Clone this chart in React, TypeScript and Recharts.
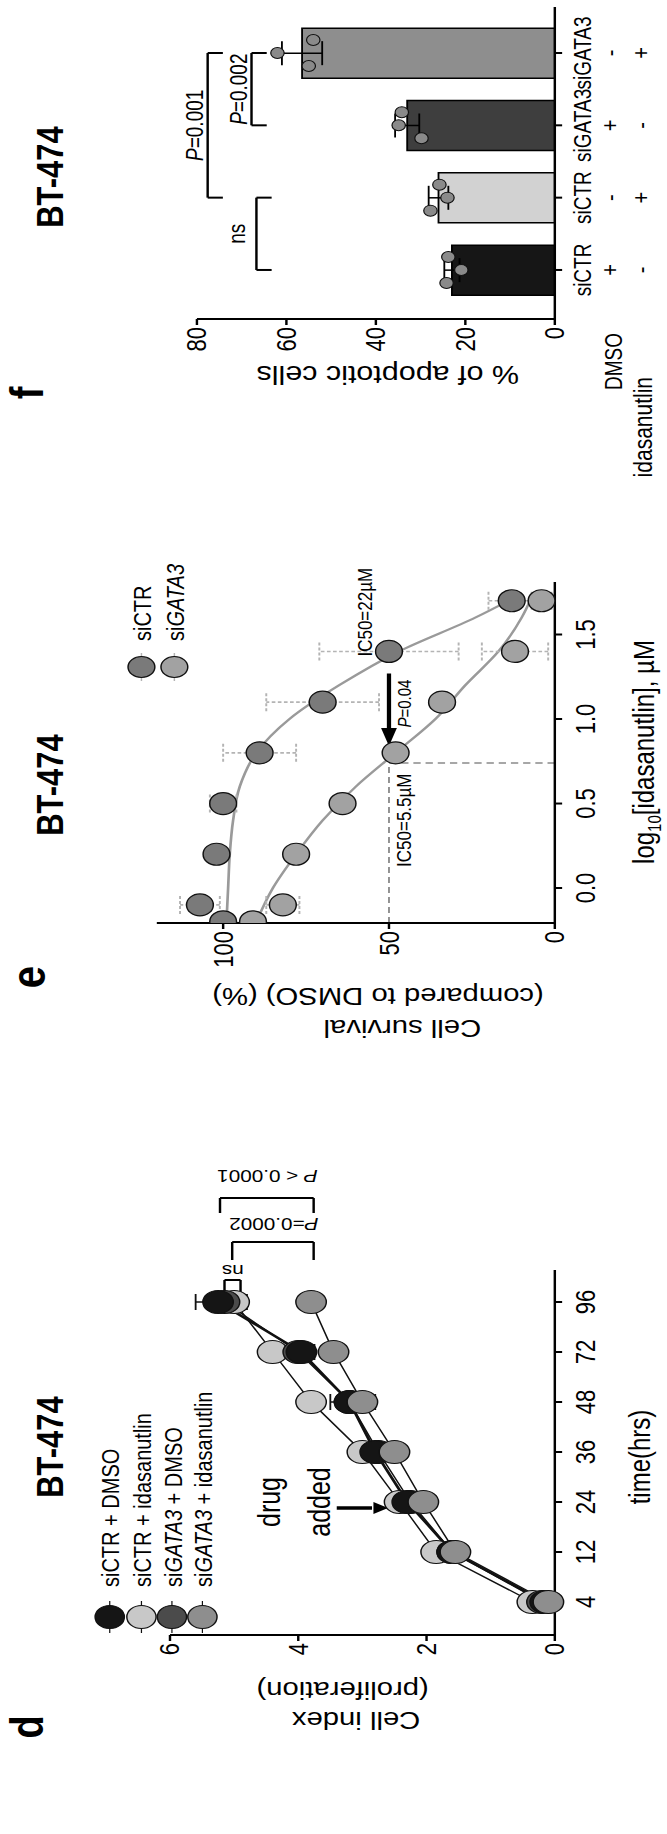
import React from "react";
import {
  ComposedChart,
  Line,
  Bar,
  Cell,
  XAxis,
  YAxis,
  ErrorBar,
  ReferenceLine,
  ReferenceDot,
} from "recharts";

const FONT = '"Liberation Sans", Arial, Helvetica, sans-serif';
const PAGE_W = 667;
const PAGE_H = 1834;
// the figure is laid out landscape (PAGE_H wide) and then turned and stretched a bit
const H = 547;
const STRETCH = PAGE_W / H;

const AXIS = { stroke: "#000", strokeWidth: 2 };
const TICK = { fill: "#000", fontSize: 22, fontFamily: FONT };

// ---------- d: proliferation ----------
const TIMES = ["4", "12", "24", "36", "48", "72", "96"];
const CTR_DMSO = [0.15, 1.6, 2.3, 2.8, 3.2, 3.95, 5.25];
const CTR_DMSO_ERR = [null, null, 0.1, 0.12, 0.15, 0.2, 0.35];
const CTR_IDA = [0.35, 1.85, 2.42, 3.0, 3.8, 4.4, 5.0];
const CTR_IDA_ERR = [null, null, null, null, 0.15, null, 0.2];
const GATA_DMSO = [0.2, 1.6, 2.25, 2.75, 3.2, 4.0, 5.15];
const GATA_DMSO_ERR = [null, null, null, 0.1, 0.3, 0.25, 0.2];
const GATA_IDA = [0.1, 1.55, 2.05, 2.5, 3.0, 3.45, 3.8];
const GATA_IDA_ERR = [null, null, 0.1, 0.15, 0.2, 0.1, null];

// ---------- e: survival ----------
const E_X = [-0.2, -0.1, 0.2, 0.5, 0.8, 1.1, 1.4, 1.7];
const E_CTR = [100, 107, 102, 100, 89, 70, 50, 13];
const E_CTR_ERR = [null, 6, null, 4, 11, 17, 21, 7];
const E_GATA = [91, 82, 78, 64, 48, 34, 12, 4];
const E_GATA_ERR = [null, 5, null, null, null, null, 10, 3];
// fitted curves
const FIT_X = [-0.2, 0, 0.2, 0.4, 0.6, 0.8, 1.0, 1.2, 1.4, 1.6, 1.72];
const FIT_CTR = [99, 98.5, 98, 97, 95, 90, 80, 65, 47, 24, 12];
const FIT_GATA = [90, 85, 78, 70, 60, 48, 36, 27, 17, 10, 7];

// ---------- f: apoptosis ----------
const F_GROUPS = ["siCTR", "siCTR", "siGATA3", "siGATA3"];
const F_DMSO = ["+", "-", "+", "-"];
const F_IDA = ["-", "+", "-", "+"];
const F_MEAN = [23, 26, 33, 56.5];
const F_ERR = [1.7, 2.2, 2.7, 4.5];
const F_REP1 = [24.2, 27.8, 29.8, 55];
const F_REP2 = [20.9, 24, 34.9, 62];
const F_REP3 = [23.8, 25.8, 34.2, 54];
const F_COLORS = ["#161616", "#d2d2d2", "#3e3e3e", "#8e8e8e"];

const dRows = TIMES.map((t, i) => ({
  i,
  ctrDmso: CTR_DMSO[i],
  ctrDmsoErr: CTR_DMSO_ERR[i],
  ctrIda: CTR_IDA[i],
  ctrIdaErr: CTR_IDA_ERR[i],
  gataDmso: GATA_DMSO[i],
  gataDmsoErr: GATA_DMSO_ERR[i],
  gataIda: GATA_IDA[i],
  gataIdaErr: GATA_IDA_ERR[i],
}));

const eRows = Array.from(new Set([...E_X, ...FIT_X]))
  .sort((a, b) => a - b)
  .map((x) => {
    const p = E_X.indexOf(x);
    const f = FIT_X.indexOf(x);
    return {
      x,
      ctr: p >= 0 ? E_CTR[p] : null,
      ctrErr: p >= 0 ? E_CTR_ERR[p] : null,
      gata: p >= 0 ? E_GATA[p] : null,
      gataErr: p >= 0 ? E_GATA_ERR[p] : null,
      fitCtr: f >= 0 ? FIT_CTR[f] : null,
      fitGata: f >= 0 ? FIT_GATA[f] : null,
    };
  });

const fRows = F_GROUPS.map((g, i) => ({
  i,
  mean: F_MEAN[i],
  err: F_ERR[i],
  r1: F_REP1[i],
  r2: F_REP2[i],
  r3: F_REP3[i],
}));

const D_LINES = [
  { key: "ctrIda", fill: "#c8c8c8", sw: 1.3 },
  { key: "gataDmso", fill: "#4b4b4b", sw: 1.3 },
  { key: "ctrDmso", fill: "#151515", sw: 2.4 },
  { key: "gataIda", fill: "#8e8e8e", sw: 1.3 },
];

const D_LEGEND = [
  { gene: false, rest: " + DMSO", fill: "#151515" },
  { gene: false, rest: " + idasanutlin", fill: "#c8c8c8" },
  { gene: true, rest: " + DMSO", fill: "#4b4b4b" },
  { gene: true, rest: " + idasanutlin", fill: "#8e8e8e" },
];

const ring = (fill: string, rx: number, ry: number, dx = 0, sw = 1.2) => (p: any) => {
  if (p.cx == null || p.cy == null || p.value == null) return <g key={p.index} />;
  return (
    <ellipse
      key={p.index}
      cx={p.cx + dx}
      cy={p.cy}
      rx={rx}
      ry={ry}
      fill={fill}
      stroke="#111"
      strokeWidth={sw}
    />
  );
};

const note =
  (content: React.ReactNode, size: number, anchor = "middle", rot = false, bold = false) =>
  (p: any) =>
    (
      <text
        x={p.cx}
        y={p.cy}
        fontSize={size}
        fontFamily={FONT}
        fontWeight={bold ? "bold" : "normal"}
        textAnchor={anchor}
        fill="#000"
        transform={rot ? `rotate(-90 ${p.cx} ${p.cy})` : undefined}
      >
        {content}
      </text>
    );

const pItalic = (rest: string) => (
  <>
    <tspan fontStyle="italic">P</tspan>
    {rest}
  </>
);

function bracket(pts: number[][], k: string) {
  return pts.slice(0, -1).map((p, j) => (
    <ReferenceLine
      key={k + j}
      segment={[
        { x: p[0], y: p[1] },
        { x: pts[j + 1][0], y: pts[j + 1][1] },
      ]}
      stroke="#000"
      strokeWidth={2}
      ifOverflow="visible"
    />
  ));
}

function Gene({ gene, rest }: { gene: boolean; rest: string }) {
  return gene ? (
    <>
      si<tspan fontStyle="italic">GATA3</tspan>
      {rest}
    </>
  ) : (
    <>siCTR{rest}</>
  );
}

function ProliferationChart() {
  return (
    <ComposedChart
      width={700}
      height={H}
      data={dRows}
      margin={{ top: 139.4, right: 136, bottom: 4, left: 139 }}
    >
      <XAxis
        type="number"
        dataKey="i"
        domain={[-0.66, 6.64]}
        ticks={[0, 1, 2, 3, 4, 5, 6]}
        tickFormatter={(v) => TIMES[v]}
        allowDataOverflow
        height={88}
        tick={TICK}
        tickSize={6}
        tickMargin={11}
        axisLine={AXIS}
        tickLine={AXIS}
      />
      <YAxis
        type="number"
        domain={[0, 6]}
        ticks={[0, 2, 4, 6]}
        width={60}
        tick={TICK}
        tickSize={6}
        tickMargin={2}
        axisLine={AXIS}
        tickLine={AXIS}
      />
      {D_LINES.map((s) => (
        <Line
          key={s.key}
          dataKey={s.key}
          type="linear"
          stroke="#111"
          strokeWidth={s.sw}
          dot={ring(s.fill, 11.5, 12.5)}
          activeDot={false}
          isAnimationActive={false}
        >
          <ErrorBar dataKey={s.key + "Err"} width={8} stroke="#111" strokeWidth={1.5} />
        </Line>
      ))}
      {bracket([[6.1, 5.15], [6.44, 5.15], [6.44, 4.9], [6.1, 4.9]], "ns")}
      {bracket([[6.84, 5.03], [7.2, 5.03], [7.2, 3.76], [6.84, 3.76]], "p2")}
      {bracket([[7.78, 5.22], [8.08, 5.22], [8.08, 3.76], [7.78, 3.76]], "p1")}
      <ReferenceDot x={6.74} y={5.02} r={1} ifOverflow="visible" shape={note("ns", 17, "middle", true)} />
      <ReferenceDot x={7.68} y={4.38} r={1} ifOverflow="visible" shape={note(pItalic("=0.0002"), 17, "middle", true)} />
      <ReferenceDot x={8.64} y={4.48} r={1} ifOverflow="visible" shape={note(pItalic(" < 0.0001"), 17, "middle", true)} />
      <ReferenceDot x={2.0} y={4.28} r={1} ifOverflow="visible" shape={note("drug", 25)} />
      <ReferenceDot x={2.0} y={3.5} r={1} ifOverflow="visible" shape={note("added", 25)} />
      <ReferenceLine
        segment={[
          { x: 1.88, y: 3.4 },
          { x: 1.88, y: 2.85 },
        ]}
        stroke="#000"
        strokeWidth={3.5}
        ifOverflow="visible"
      />
      <ReferenceDot
        x={1.88}
        y={2.6}
        r={1}
        ifOverflow="visible"
        shape={(p: any) => (
          <polygon
            points={`${p.cx},${p.cy} ${p.cx - 6},${p.cy - 12} ${p.cx + 6},${p.cy - 12}`}
            fill="#000"
          />
        )}
      />
    </ComposedChart>
  );
}

function SurvivalChart() {
  return (
    <ComposedChart
      width={520}
      height={H}
      data={eRows}
      margin={{ top: 128.6, right: 68, bottom: 4, left: 51 }}
    >
      <XAxis
        type="number"
        dataKey="x"
        domain={[-0.207, 1.811]}
        ticks={[0, 0.5, 1, 1.5]}
        tickFormatter={(v) => v.toFixed(1)}
        allowDataOverflow
        height={88}
        tick={TICK}
        tickSize={6}
        tickMargin={11}
        axisLine={AXIS}
        tickLine={AXIS}
      />
      <YAxis
        type="number"
        domain={[0, 120]}
        ticks={[0, 50, 100]}
        width={60}
        tick={TICK}
        tickSize={6}
        tickMargin={2}
        axisLine={AXIS}
        tickLine={AXIS}
      />
      <ReferenceLine
        segment={[
          { x: -0.207, y: 50 },
          { x: 0.74, y: 50 },
        ]}
        stroke="#8a8a8a"
        strokeWidth={1.5}
        strokeDasharray="6 4"
      />
      <ReferenceLine
        segment={[
          { x: 0.74, y: 50 },
          { x: 0.74, y: 0 },
        ]}
        stroke="#8a8a8a"
        strokeWidth={1.5}
        strokeDasharray="6 4"
      />
      <Line
        dataKey="fitCtr"
        type="monotone"
        connectNulls
        stroke="#9a9a9a"
        strokeWidth={2.2}
        dot={false}
        activeDot={false}
        isAnimationActive={false}
      />
      <Line
        dataKey="fitGata"
        type="monotone"
        connectNulls
        stroke="#9a9a9a"
        strokeWidth={2.2}
        dot={false}
        activeDot={false}
        isAnimationActive={false}
      />
      <Line
        dataKey="ctr"
        stroke="none"
        dot={ring("#7a7a7a", 11, 11)}
        activeDot={false}
        isAnimationActive={false}
      >
        <ErrorBar dataKey="ctrErr" width={9} stroke="#b4b4b4" strokeWidth={1.6} strokeDasharray="3 2" />
      </Line>
      <Line
        dataKey="gata"
        stroke="none"
        dot={ring("#a2a2a2", 11, 11)}
        activeDot={false}
        isAnimationActive={false}
      >
        <ErrorBar dataKey="gataErr" width={9} stroke="#b4b4b4" strokeWidth={1.6} strokeDasharray="3 2" />
      </Line>
      <ReferenceLine
        segment={[
          { x: 1.27, y: 50 },
          { x: 0.93, y: 50 },
        ]}
        stroke="#000"
        strokeWidth={3.5}
      />
      <ReferenceDot
        x={0.84}
        y={50}
        r={1}
        ifOverflow="visible"
        shape={(p: any) => (
          <polygon
            points={`${p.cx},${p.cy} ${p.cx + 18},${p.cy - 6.5} ${p.cx + 18},${p.cy + 6.5}`}
            fill="#000"
          />
        )}
      />
      <ReferenceDot x={0.125} y={43.5} r={1} ifOverflow="visible" shape={note("IC50=5.5µM", 17, "start")} />
      <ReferenceDot x={1.37} y={55} r={1} ifOverflow="visible" shape={note("IC50=22µM", 17, "start")} />
      <ReferenceDot x={0.95} y={43.5} r={1} ifOverflow="visible" shape={note(pItalic("=0.04"), 15, "start")} />
    </ComposedChart>
  );
}

function FTick(props: any) {
  const { x, y, payload } = props;
  const i = payload.value;
  return (
    <g fontFamily={FONT} fill="#000" textAnchor="middle">
      <text x={x} y={y + 22} fontSize={19}>
        {F_GROUPS[i]}
      </text>
      <text x={x} y={y + 44} fontSize={20}>
        {F_DMSO[i]}
      </text>
      <text x={x} y={y + 69} fontSize={20}>
        {F_IDA[i]}
      </text>
    </g>
  );
}

const SPREAD = [-13, 0, 13];

function ApoptosisChart() {
  return (
    <ComposedChart
      width={394}
      height={H}
      data={fRows}
      margin={{ top: 161.5, right: 7, bottom: 4, left: 25 }}
    >
      <XAxis
        type="number"
        dataKey="i"
        domain={[-0.678, 3.636]}
        ticks={[0, 1, 2, 3]}
        allowDataOverflow
        height={88}
        tick={<FTick />}
        tickSize={6}
        tickMargin={2}
        axisLine={AXIS}
        tickLine={AXIS}
      />
      <YAxis
        type="number"
        domain={[0, 80]}
        ticks={[0, 20, 40, 60, 80]}
        width={50}
        tick={TICK}
        tickSize={6}
        tickMargin={2}
        axisLine={AXIS}
        tickLine={AXIS}
      />
      <Bar dataKey="mean" barSize={50} stroke="#000" strokeWidth={1.5} isAnimationActive={false}>
        {fRows.map((r, i) => (
          <Cell key={i} fill={F_COLORS[i]} />
        ))}
        <ErrorBar dataKey="err" width={12} stroke="#000" strokeWidth={1.5} />
      </Bar>
      {["r1", "r2", "r3"].map((k, j) => (
        <Line
          key={k}
          dataKey={k}
          stroke="none"
          dot={ring("#8a8a8a", 5.5, 5.5, SPREAD[j], 1)}
          activeDot={false}
          isAnimationActive={false}
        />
      ))}
      {bracket([[1, 74.2], [1, 77.6], [3, 77.6], [3, 74.2]], "a")}
      {bracket([[2, 64.4], [2, 67.8], [3, 67.8], [3, 64.4]], "b")}
      {bracket([[0, 63.3], [0, 66.7], [1, 66.7], [1, 63.3]], "c")}
      <ReferenceDot x={2} y={78.6} r={1} ifOverflow="visible" shape={note(pItalic("=0.001"), 19)} />
      <ReferenceDot x={2.5} y={68.9} r={1} ifOverflow="visible" shape={note(pItalic("=0.002"), 19)} />
      <ReferenceDot x={0.5} y={69.3} r={1} ifOverflow="visible" shape={note("ns", 19)} />
    </ComposedChart>
  );
}

function Overlay() {
  const dLegendY = [90, 116, 141, 166];
  return (
    <svg
      width={PAGE_H}
      height={H}
      style={{ position: "absolute", left: 0, top: 0, pointerEvents: "none" }}
      fontFamily={FONT}
      fill="#000"
    >
      {/* panel d */}
      <text x={107} y={35} fontSize={38} fontWeight="bold" textAnchor="middle">d</text>
      <text x={387} y={52} fontSize={31} fontWeight="bold" textAnchor="middle">BT-474</text>
      {D_LEGEND.map((l, i) => (
        <g key={i}>
          <line x1={201} x2={233} y1={dLegendY[i]} y2={dLegendY[i]} stroke="#111" strokeWidth={1} />
          <ellipse cx={217} cy={dLegendY[i]} rx={11.5} ry={12} fill={l.fill} stroke="#111" strokeWidth={1.2} />
          <text x={247} y={dLegendY[i] + 8} fontSize={20}>
            <Gene gene={l.gene} rest={l.rest} />
          </text>
        </g>
      ))}
      <text x={122} y={292} fontSize={24} textAnchor="middle" transform="rotate(-90 122 292)">Cell index</text>
      <text x={152} y={281} fontSize={24} textAnchor="middle" transform="rotate(-90 152 281)">(proliferation)</text>
      <text x={377} y={533} fontSize={24} textAnchor="middle">time(hrs)</text>

      {/* panel e */}
      <text x={857} y={37} fontSize={40} fontWeight="bold" textAnchor="middle">e</text>
      <text x={1049} y={52} fontSize={31} fontWeight="bold" textAnchor="middle">BT-474</text>
      {[
        { cy: 116, fill: "#7a7a7a", gene: false },
        { cy: 143, fill: "#a2a2a2", gene: true },
      ].map((l, i) => (
        <g key={i}>
          <line x1={1153} x2={1181} y1={l.cy} y2={l.cy} stroke="#b4b4b4" strokeWidth={1.2} />
          <ellipse cx={1167} cy={l.cy} rx={10.5} ry={11} fill={l.fill} stroke="#111" strokeWidth={1.2} />
          <text x={1193} y={l.cy + 8} fontSize={20}>
            <Gene gene={l.gene} rest="" />
          </text>
        </g>
      ))}
      <text x={814} y={330} fontSize={24} textAnchor="middle" transform="rotate(-90 814 330)">Cell survival</text>
      <text x={846} y={310} fontSize={24} textAnchor="middle" transform="rotate(-90 846 310)">(compared to DMSO) (%)</text>
      <text x={1082} y={536} fontSize={24} textAnchor="middle">
        log<tspan fontSize={15} dy={6}>10</tspan>
        <tspan dy={-6}>[idasanutlin], µM</tspan>
      </text>

      {/* panel f */}
      <text x={1441} y={35} fontSize={38} fontWeight="bold" textAnchor="middle">f</text>
      <text x={1657} y={52} fontSize={31} fontWeight="bold" textAnchor="middle">BT-474</text>
      <text x={1468} y={318} fontSize={25} textAnchor="middle" transform="rotate(-90 1468 318)">% of apoptotic cells</text>
      <text x={1501} y={510} fontSize={19} textAnchor="end">DMSO</text>
      <text x={1457} y={535} fontSize={21} textAnchor="end">idasanutlin</text>
    </svg>
  );
}

export default function App() {
  return (
    <div
      style={{
        position: "absolute",
        left: 0,
        top: 0,
        width: PAGE_W,
        height: PAGE_H,
        overflow: "hidden",
        background: "#fff",
      }}
    >
      <div
        style={{
          position: "absolute",
          left: 0,
          top: 0,
          width: PAGE_H,
          height: H,
          transformOrigin: "0 0",
          transform: `translateY(${PAGE_H}px) rotate(-90deg) scale(1, ${STRETCH})`,
          fontFamily: FONT,
        }}
      >
        <div style={{ position: "absolute", left: 0, top: 0 }}>
          <ProliferationChart />
        </div>
        <div style={{ position: "absolute", left: 800, top: 0 }}>
          <SurvivalChart />
        </div>
        <div style={{ position: "absolute", left: 1440, top: 0 }}>
          <ApoptosisChart />
        </div>
        <Overlay />
      </div>
    </div>
  );
}
